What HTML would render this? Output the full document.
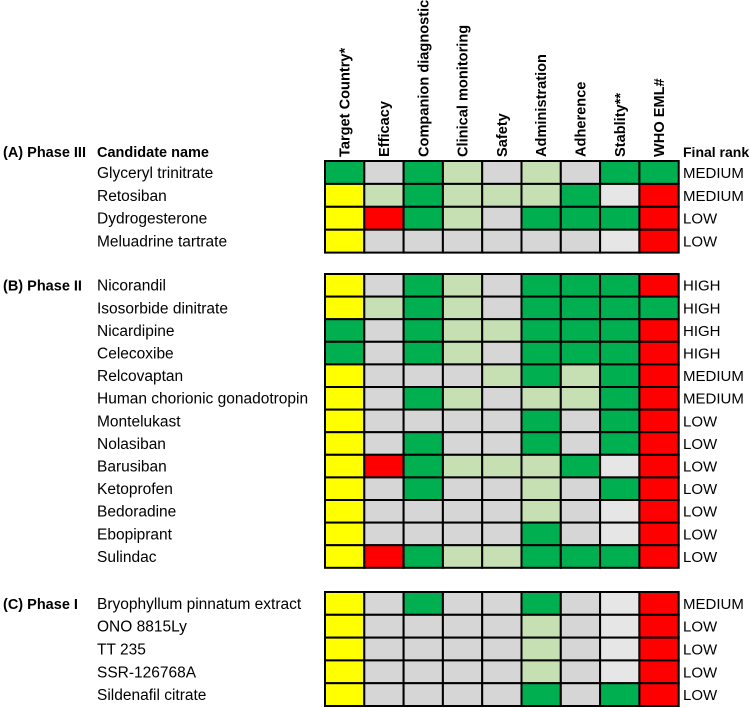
<!DOCTYPE html>
<html><head><meta charset="utf-8">
<style>
body{margin:0;background:#fff;overflow:hidden;}
svg{display:block;font-family:"Liberation Sans",sans-serif;}
</style></head>
<body>
<svg id="chart" width="750" height="708"></svg>
<script>
const columns=["Target Country*","Efficacy","Companion diagnostics","Clinical monitoring","Safety","Administration","Adherence","Stablity**","WHO EML#"];
const phaseLabels=["(A) Phase III","(B) Phase II","(C) Phase I"];
const phaseA=["Glyceryl trinitrate","Retosiban","Dydrogesterone","Meluadrine tartrate"];
const phaseB=["Nicorandil","Isosorbide dinitrate","Nicardipine","Celecoxibe","Relcovaptan","Human chorionic gonadotropin","Montelukast","Nolasiban","Barusiban","Ketoprofen","Bedoradine","Ebopiprant","Sulindac"];
const phaseC=["Bryophyllum pinnatum extract","ONO 8815Ly","TT 235","SSR-126768A","Sildenafil citrate"];
const cellsA=["GDGLDLDGG","YLGLLLGER","YRGLDGGGR","YDDDDDDER"];
const cellsB=["YDGLDGGGR","YLGLDGGGG","GDGLLGGGR","GDGLDGGGR","YDDDLGLGR","YDGLDLLGR","YDDDDGDGR","YDGDDGDGR","YRGLLLGER","YDGDDLDGR","YDDDDLDER","YDDDDGDER","YRGLLGGGR"];
const cellsC=["YDGDDGDER","YDDDDLDER","YDDDDLDER","YDDDDLDER","YDDDDGDGR"];
const ranksA=["MEDIUM","MEDIUM","LOW","LOW"];
const ranksB=["HIGH","HIGH","HIGH","HIGH","MEDIUM","MEDIUM","LOW","LOW","LOW","LOW","LOW","LOW","LOW"];
const ranksC=["MEDIUM","LOW","LOW","LOW","LOW"];
const colors={Y:"#ffff00",G:"#00b050",L:"#c6e0b4",D:"#d6d6d6",E:"#e6e6e6",R:"#ff0000"};

const svg=document.getElementById('chart');
const NS="http://www.w3.org/2000/svg";
function mk(tag,attrs,parent){const e=document.createElementNS(NS,tag);for(const k in attrs)e.setAttribute(k,attrs[k]);(parent||svg).appendChild(e);return e;}
const gx0=325,colW=39.3;
const xCol=i=>gx0+i*colW;
const groups=[
 {label:phaseLabels[0],names:phaseA,cells:cellsA,ranks:ranksA,top:161,rowH:22.9},
 {label:phaseLabels[1],names:phaseB,cells:cellsB,ranks:ranksB,top:274,rowH:22.6},
 {label:phaseLabels[2],names:phaseC,cells:cellsC,ranks:ranksC,top:592,rowH:22.8}
];
columns.forEach((c,i)=>{
 const cx=xCol(i)+colW/2+5;
 const t=mk('text',{x:0,y:0,transform:`translate(${cx},157) rotate(-90)`,'font-size':'14.6','font-weight':'bold',fill:'#000'});
 t.textContent=c;
 
 
});
const fr=mk('text',{x:683,y:157,'font-size':'14','font-weight':'bold'});fr.textContent="Final rank";


const cn=mk('text',{x:97,y:157,'font-size':'14.5','font-weight':'bold'});cn.textContent="Candidate name";



groups.forEach((g,gi)=>{
 const pl=mk('text',{x:3,y:(gi===0?157:g.top+g.rowH*0.74),'font-size':'14.5','font-weight':'bold'});
 pl.textContent=g.label;
 
 
 g.names.forEach((n,r)=>{
  const y=g.top+r*g.rowH;
  const t=mk('text',{x:97,y:y+g.rowH*0.74,'font-size':'15.5'});t.textContent=n;
  
  
  const rk=mk('text',{x:683,y:y+g.rowH*0.74,'font-size':'15'});rk.textContent=g.ranks[r];
  
  
  g.cells[r].split('').forEach((c,ci)=>{
   const rc=mk('rect',{x:xCol(ci),y:y,width:colW,height:g.rowH,fill:colors[c],stroke:'#000','stroke-width':'2'});
   
   
  });
 });
});
</script>
</body></html>
